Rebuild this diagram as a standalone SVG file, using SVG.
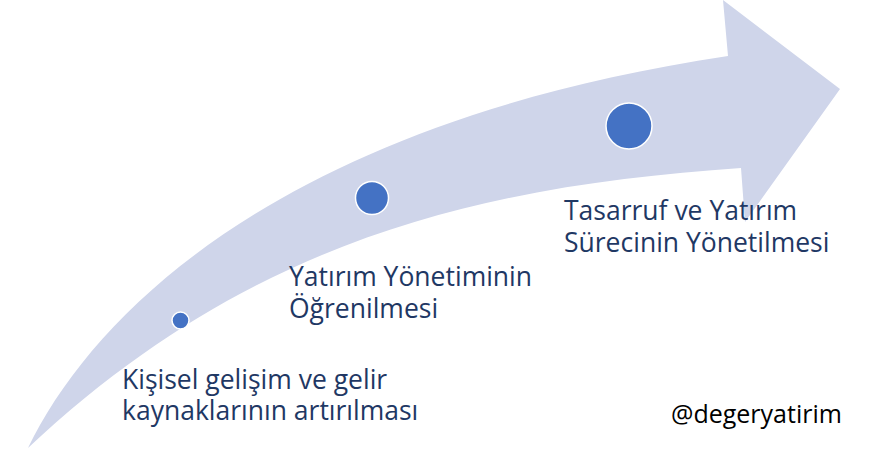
<svg xmlns="http://www.w3.org/2000/svg" width="879" height="454" viewBox="0 0 879 454">
<style>
.lbl{font-family:"Open Sans","Noto Sans","Liberation Sans",sans-serif;font-size:26.5px;fill:#1F3864}
.wm{font-family:"Open Sans","Noto Sans","Liberation Sans",sans-serif;font-size:25px;fill:#000}
.dot{fill:#4472C4;stroke:#fff;stroke-width:1.5}
</style>
<rect width="879" height="454" fill="#fff"/>
<g id="arrow">
<path d="M28,448 C100,300 300,120 728,56 L723,0 L840,89 L745,222 L741,168 C500,185 260,230 28,448 Z" fill="#CFD5EA"/>
</g>
<g id="node1">
<circle class="dot" cx="180.5" cy="320.5" r="8.5"/>
<text class="lbl" x="122" y="389">Kişisel gelişim ve gelir<tspan x="122" dy="31">kaynaklarının artırılması</tspan></text>
</g>
<g id="node2">
<circle class="dot" cx="372" cy="198" r="16.5"/>
<text class="lbl" x="289" y="286">Yatırım Yönetiminin<tspan x="289" dy="32">Öğrenilmesi</tspan></text>
</g>
<g id="node3">
<circle class="dot" cx="629" cy="126" r="23"/>
<text class="lbl" x="564" y="220">Tasarruf ve Yatırım<tspan x="564" dy="32">Sürecinin Yönetilmesi</tspan></text>
</g>
<g id="watermark">
<text class="wm" x="671" y="423">@degeryatirim</text>
</g>
<g id="connectors"></g>
</svg>
